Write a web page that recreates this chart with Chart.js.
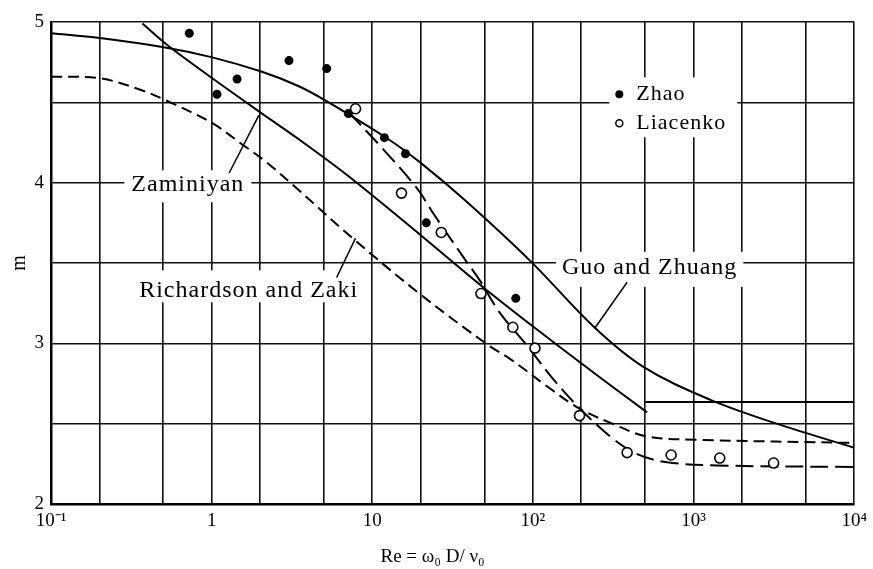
<!DOCTYPE html>
<html>
<head>
<meta charset="utf-8">
<script src="https://cdn.jsdelivr.net/npm/chart.js"></script>
<style>
  body { margin: 0; background: #fff; }
  #graph { display: block; }
</style>
</head>
<body>
<canvas id="graph" width="873" height="569"></canvas>
<script>
// x axis: Re (log), y axis: m
const xGridValues = [0.1, 0.2, 0.5, 1, 2, 5, 10, 20, 50, 100, 200, 500, 1000, 2000, 5000, 10000];
const xTickValues = [0.1, 1, 10, 100, 1000, 10000];
const xTickLabels = ['10⁻¹', '1', '10', '10²', '10³', '10⁴'];

// Guo and Zhuang (solid)
const guoRe = [0.1, 0.201, 0.524, 1.01, 2.06, 3.49, 5.13, 12.6, 20.2, 37.8, 96.9, 241, 493, 1264, 3289, 10000];
const guoM  = [4.93, 4.90, 4.84, 4.78, 4.69, 4.60, 4.51, 4.27, 4.12, 3.89, 3.51, 3.10, 2.85, 2.65, 2.50, 2.35];

// Zaminiyan (solid)
const zamRe = [0.371, 0.524, 1.01, 2.06, 3.49, 7.12, 20.2, 50.3, 118, 252, 514];
const zamM  = [4.99, 4.86, 4.65, 4.43, 4.27, 4.04, 3.67, 3.34, 3.05, 2.80, 2.57];
const zamTailRe = [500, 10000];
const zamTailM  = [2.635, 2.635];

// Richardson and Zaki (short dashes)
const rzRe = [0.1, 0.201, 0.356, 0.524, 1.01, 1.59, 2.18, 3.34, 7.43, 20.2, 52.5, 72.8, 123.5, 190, 312, 514, 1050, 10000];
const rzM  = [4.66, 4.65, 4.58, 4.51, 4.37, 4.23, 4.13, 3.97, 3.66, 3.30, 2.99, 2.90, 2.73, 2.60, 2.50, 2.42, 2.40, 2.38];

// curve through the data (long dashes)
const fitRe = [7.12, 11.4, 18.8, 24.3, 36.7, 46.8, 62.3, 92.9, 133, 198, 312, 446, 684, 1396, 10000];
const fitM  = [4.44, 4.22, 3.97, 3.80, 3.54, 3.39, 3.19, 2.98, 2.78, 2.59, 2.41, 2.31, 2.26, 2.24, 2.23];

// measured points
const zhaoRe = [0.726, 1.08, 1.44, 3.03, 5.2, 7.1, 11.9, 16.1, 21.7, 78.2];
const zhaoM  = [4.93, 4.55, 4.645, 4.76, 4.71, 4.43, 4.28, 4.18, 3.75, 3.28];
const liaRe = [7.87, 15.2, 26.9, 47.5, 75, 103, 195, 386, 725, 1456, 3150];
const liaM  = [4.46, 3.935, 3.69, 3.31, 3.10, 2.97, 2.55, 2.32, 2.305, 2.286, 2.255];

// label leader lines
const leadZamRe = [1.285, 1.97],  leadZamM = [4.06, 4.42];
const leadRzRe  = [6.0, 7.87],    leadRzM  = [3.41, 3.655];
const leadGuoRe = [386, 245],     leadGuoM = [3.38, 3.10];

const pts = (xs, ys) => xs.map((v, i) => ({x: v, y: ys[i]}));

const serif = 'Liberation Serif, Times New Roman, serif';

// curve names written on the plot: centre in data coords, white box padding [side, top, bottom]
const notes = [
    {text: 'Zaminiyan', re: 0.711, m: 3.99, pad: [7, 14, 18]},
    {text: 'Richardson and Zaki', re: 1.70, m: 3.33, pad: [6, 20, 12]},
    {text: 'Guo and Zhuang', re: 533, m: 3.47, pad: [6, 16, 19]}
];
const legendRows = [
    {label: 'Zhao', filled: true, re: 345, m: 4.55},
    {label: 'Liacenko', filled: false, re: 345, m: 4.37}
];

const notesPlugin = {
    id: 'notes',
    beforeDatasetsDraw(chart) {
        const {ctx} = chart;
        const xs = chart.scales.x, ys = chart.scales.y;
        ctx.save();
        ctx.fillStyle = '#fff';
        ctx.font = '24px ' + serif;
        ctx.letterSpacing = '1px';
        notes.forEach(n => {
            const px = xs.getPixelForValue(n.re), py = ys.getPixelForValue(n.m);
            const w = ctx.measureText(n.text).width;
            ctx.fillRect(px - w / 2 - n.pad[0], py - n.pad[1], w + 2 * n.pad[0], n.pad[1] + n.pad[2]);
        });
        // legend box
        const lx = xs.getPixelForValue(legendRows[0].re);
        const ly0 = ys.getPixelForValue(legendRows[0].m);
        const ly1 = ys.getPixelForValue(legendRows[1].m);
        ctx.fillRect(lx - 10, ly0 - 17, 128, ly1 - ly0 + 31);
        ctx.restore();
    },
    afterDatasetsDraw(chart) {
        const {ctx, chartArea} = chart;
        const xs = chart.scales.x, ys = chart.scales.y;
        ctx.save();
        ctx.fillStyle = '#000';
        ctx.strokeStyle = '#000';
        ctx.textBaseline = 'middle';
        ctx.textAlign = 'center';
        ctx.font = '24px ' + serif;
        ctx.letterSpacing = '1px';
        notes.forEach(n => {
            ctx.fillText(n.text, xs.getPixelForValue(n.re), ys.getPixelForValue(n.m));
        });

        // legend
        ctx.font = '22px ' + serif;
        ctx.textAlign = 'left';
        legendRows.forEach(r => {
            const px = xs.getPixelForValue(r.re), py = ys.getPixelForValue(r.m);
            ctx.beginPath();
            ctx.lineWidth = 1.5;
            if (r.filled) {
                ctx.arc(px, py, 4, 0, Math.PI * 2);
                ctx.fill();
            } else {
                ctx.arc(px, py, 3.5, 0, Math.PI * 2);
                ctx.stroke();
            }
            ctx.fillText(r.label, px + 17, py);
        });

        // x axis title
        ctx.font = '19px ' + serif;
        ctx.letterSpacing = '0px';
        ctx.textAlign = 'center';
        ctx.fillText('Re = ω₀ D/ ν₀', (chartArea.left + chartArea.right) / 2 - 20, chart.height - 12);
        ctx.restore();
    }
};

const curve = (data, dash) => ({
    data: data,
    showLine: true,
    borderColor: '#000',
    borderWidth: 2,
    borderDash: dash || [],
    pointRadius: 0,
    tension: 0.35,
    fill: false
});

const ctx = document.getElementById('graph').getContext('2d');
new Chart(ctx, {
    type: 'scatter',
    data: {
        datasets: [
            {
                label: 'Liacenko',
                data: pts(liaRe, liaM),
                pointRadius: 5,
                pointBackgroundColor: '#fff',
                pointBorderColor: '#000',
                pointBorderWidth: 1.6
            },
            {
                label: 'Zhao',
                data: pts(zhaoRe, zhaoM),
                pointRadius: 4.5,
                pointBackgroundColor: '#000',
                pointBorderColor: '#000',
                pointBorderWidth: 0
            },
            curve(pts(guoRe, guoM)),
            curve(pts(zamRe, zamM)),
            Object.assign(curve(pts(zamTailRe, zamTailM)), {tension: 0}),
            curve(pts(rzRe, rzM), [11, 6]),
            curve(pts(fitRe, fitM), [18, 7]),
            Object.assign(curve(pts(leadZamRe, leadZamM)), {borderWidth: 1.5, tension: 0}),
            Object.assign(curve(pts(leadRzRe, leadRzM)), {borderWidth: 1.5, tension: 0}),
            Object.assign(curve(pts(leadGuoRe, leadGuoM)), {borderWidth: 1.5, tension: 0})
        ]
    },
    options: {
        responsive: false,
        animation: false,
        devicePixelRatio: 1,
        layout: {
            padding: {left: 0, right: 15, top: 22, bottom: 0}
        },
        plugins: {
            legend: {display: false},
            tooltip: {enabled: false}
        },
        scales: {
            x: {
                type: 'logarithmic',
                min: 0.1,
                max: 10000,
                afterBuildTicks: s => { s.ticks = xGridValues.map(v => ({value: v})); },
                afterFit: s => { s.height = 65; },
                ticks: {
                    autoSkip: false,
                    maxRotation: 0,
                    padding: 6,
                    color: '#000',
                    font: {family: serif, size: 19},
                    callback: v => {
                        const i = xTickValues.indexOf(v);
                        return i >= 0 ? xTickLabels[i] : '';
                    }
                },
                grid: {color: '#111', lineWidth: 1.6, drawTicks: false},
                border: {color: '#000', width: 2.5}
            },
            y: {
                type: 'linear',
                min: 2,
                max: 5,
                afterFit: s => { s.width = 51; },
                ticks: {
                    stepSize: 0.5,
                    autoSkip: false,
                    padding: 7,
                    color: '#000',
                    font: {family: serif, size: 19},
                    callback: v => Number.isInteger(v) ? String(v) : ''
                },
                title: {
                    display: true,
                    text: 'm',
                    color: '#000',
                    font: {family: serif, size: 20},
                    padding: {top: 8, bottom: 0}
                },
                grid: {color: '#111', lineWidth: 1.6, drawTicks: false},
                border: {color: '#000', width: 2.5}
            }
        }
    },
    plugins: [notesPlugin]
});
</script>
</body>
</html>
